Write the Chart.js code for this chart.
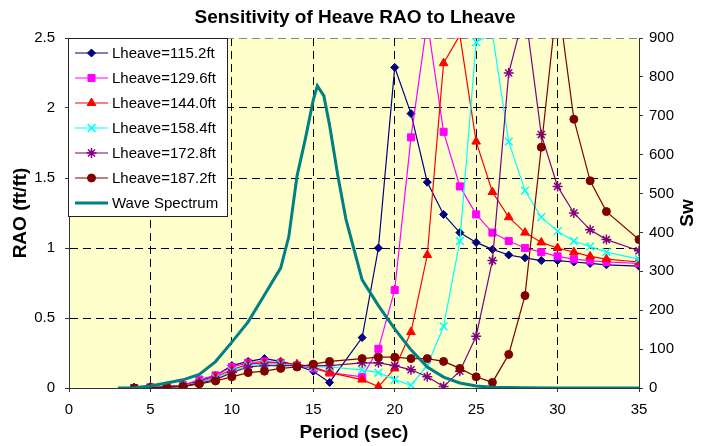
<!DOCTYPE html>
<html>
<head>
<meta charset="utf-8">
<script src="https://cdn.jsdelivr.net/npm/chart.js@4.4.1/dist/chart.umd.min.js"></script>
<style>
  html, body { margin: 0; padding: 0; background: #fff; }
</style>
</head>
<body>
<canvas id="raoChart" width="701" height="446"></canvas>
<script>
// wave periods (sec) where the RAO was computed
let periods = [4, 5, 6, 7, 8, 9, 10, 11, 12, 13, 14, 15, 16, 18, 19, 20, 21, 22, 23, 24, 25, 26, 27, 28, 29, 30, 31, 32, 33, 35];

let rao115 = [0, 0.005, 0.01, 0.02, 0.05, 0.09, 0.16, 0.19, 0.21, 0.19, 0.16, 0.12, 0.04, 0.36, 1.0, 2.29, 1.96, 1.47, 1.24, 1.11, 1.04, 0.99, 0.95, 0.93, 0.91, 0.91, 0.90, 0.89, 0.88, 0.87];
let rao130 = [0, 0.005, 0.01, 0.02, 0.06, 0.09, 0.15, 0.18, 0.19, 0.18, 0.16, 0.14, 0.11, 0.08, 0.28, 0.70, 1.79, 2.62, 1.83, 1.44, 1.24, 1.11, 1.05, 1.00, 0.97, 0.94, 0.92, 0.91, 0.90, 0.89];
let rao144 = [0, 0.004, 0.01, 0.02, 0.04, 0.08, 0.13, 0.17, 0.18, 0.18, 0.17, 0.15, 0.11, 0.06, 0.01, 0.14, 0.40, 0.95, 2.32, 2.52, 1.76, 1.40, 1.22, 1.11, 1.04, 1.00, 0.97, 0.94, 0.92, 0.90];
let rao158 = [0, 0.004, 0.008, 0.015, 0.04, 0.07, 0.12, 0.16, 0.17, 0.17, 0.16, 0.15, 0.15, 0.13, 0.11, 0.06, 0.02, 0.16, 0.44, 1.05, 2.47, 2.53, 1.76, 1.41, 1.22, 1.12, 1.05, 1.01, 0.97, 0.92];
let rao173 = [0, 0.003, 0.007, 0.013, 0.035, 0.06, 0.11, 0.15, 0.16, 0.16, 0.16, 0.16, 0.16, 0.18, 0.18, 0.16, 0.13, 0.08, 0.01, 0.12, 0.37, 0.91, 2.25, 2.70, 1.81, 1.44, 1.25, 1.13, 1.06, 0.98];
let rao187 = [0, 0.003, 0.005, 0.01, 0.03, 0.05, 0.08, 0.11, 0.12, 0.14, 0.15, 0.17, 0.19, 0.21, 0.22, 0.22, 0.21, 0.21, 0.19, 0.14, 0.08, 0.04, 0.24, 0.66, 1.72, 2.80, 1.92, 1.48, 1.26, 1.06];

// wave spectrum, plotted against the right axis
let specPeriod = [3, 4, 5, 6, 7, 8, 9, 10, 11, 12, 13, 13.5, 14, 14.5, 15, 15.25, 15.65, 16, 16.5, 17, 18, 19, 20, 21, 22, 23, 24, 25, 26, 27, 28, 30, 35];
let specSw = [0, 0.5, 5, 13, 21, 35, 68, 118, 170, 239, 309, 390, 545, 638, 741, 777, 751, 676, 548, 435, 278, 212, 152, 98, 54, 28, 13, 5, 2, 1, 0.5, 0, 0];

let seriesNames = ['Lheave=115.2ft', 'Lheave=129.6ft', 'Lheave=144.0ft', 'Lheave=158.4ft', 'Lheave=172.8ft', 'Lheave=187.2ft', 'Wave Spectrum'];

const FONT = "'Liberation Sans', Arial, sans-serif";

function pts(xs, ys) {
  return xs.map((x, i) => ({ x: x, y: ys[i] }));
}

function raoSet(i, values, color, style, radius, order) {
  return {
    label: seriesNames[i],
    data: pts(periods, values),
    yAxisID: 'y',
    borderColor: color,
    backgroundColor: color,
    borderWidth: 1.2,
    pointStyle: style,
    pointRadius: radius,
    pointBorderWidth: (style === 'crossRot' || style === 'star') ? 1.5 : 1,
    pointBorderColor: color,
    pointBackgroundColor: color,
    tension: 0,
    order: order
  };
}

let datasets = [
  raoSet(0, rao115, '#000080', 'rectRot', 4, 6),
  raoSet(1, rao130, '#FF00FF', 'rect', 5, 5),
  raoSet(2, rao144, '#FF0000', 'triangle', 5, 4),
  raoSet(3, rao158, '#00FFFF', 'crossRot', 5.5, 3),
  raoSet(4, rao173, '#800080', 'star', 5, 2),
  raoSet(5, rao187, '#800000', 'circle', 4, 1),
  {
    label: seriesNames[6],
    data: pts(specPeriod, specSw),
    yAxisID: 'y2',
    borderColor: '#008080',
    backgroundColor: '#008080',
    borderWidth: 3,
    pointRadius: 0,
    tension: 0,
    order: 0
  }
];

// light yellow plot area
const plotBackground = {
  id: 'plotBackground',
  beforeDraw(chart) {
    const a = chart.chartArea;
    const ctx = chart.ctx;
    ctx.save();
    ctx.fillStyle = '#FFFFCC';
    ctx.fillRect(a.left, a.top, a.right - a.left, a.bottom - a.top);
    ctx.restore();
  }
};

// boxed legend in the upper left corner, line sample with marker
const boxLegend = {
  id: 'boxLegend',
  afterDatasetsDraw(chart) {
    const ctx = chart.ctx;
    const bx = 68.5, by = 38.5, bw = 159, bh = 178;
    ctx.save();
    ctx.fillStyle = '#fff';
    ctx.fillRect(bx, by, bw, bh);
    ctx.strokeStyle = '#222';
    ctx.lineWidth = 1;
    ctx.strokeRect(bx, by, bw, bh);
    chart.data.datasets.forEach((ds, i) => {
      const y = 53 + i * 25;
      ctx.strokeStyle = ds.borderColor;
      ctx.lineWidth = ds.yAxisID === 'y2' ? 3 : 1.2;
      ctx.beginPath();
      ctx.moveTo(75, y);
      ctx.lineTo(108, y);
      ctx.stroke();
      if (ds.pointRadius > 0) {
        ctx.fillStyle = ds.pointBackgroundColor;
        ctx.strokeStyle = ds.pointBorderColor;
        ctx.lineWidth = ds.pointBorderWidth;
        Chart.helpers.drawPoint(ctx, {
          pointStyle: ds.pointStyle,
          radius: ds.pointRadius,
          rotation: 0,
          borderWidth: ds.pointBorderWidth
        }, 91.5, y);
      }
      ctx.fillStyle = '#000';
      ctx.font = '15px ' + FONT;
      ctx.textAlign = 'left';
      ctx.textBaseline = 'middle';
      ctx.fillText(ds.label, 112, y + 1);
    });
    ctx.restore();
  }
};

// chart title and right axis title
const titles = {
  id: 'titles',
  afterDraw(chart) {
    const ctx = chart.ctx;
    ctx.save();
    ctx.fillStyle = '#000';
    ctx.font = 'bold 19px ' + FONT;
    ctx.textAlign = 'center';
    ctx.textBaseline = 'middle';
    ctx.fillText('Sensitivity of Heave RAO to Lheave', 355, 18);
    ctx.translate(688, 213);
    ctx.rotate(-Math.PI / 2);
    ctx.fillText('Sw', 0, 0);
    ctx.restore();
  }
};

const tickFont = { family: FONT, size: 15 };
const axisTitleFont = { family: FONT, size: 19, weight: 'bold' };

let ctx1 = document.getElementById('raoChart').getContext('2d');
let raoChart = new Chart(ctx1, {
  type: 'line',
  data: { datasets: datasets },
  options: {
    responsive: false,
    animation: false,
    events: [],
    layout: { padding: { top: 38, left: 0, right: 0, bottom: 0 } },
    plugins: {
      legend: { display: false },
      title: { display: false },
      tooltip: { enabled: false }
    },
    scales: {
      x: {
        type: 'linear',
        min: 0,
        max: 35,
        ticks: { stepSize: 5, color: '#000', font: tickFont, padding: 9, maxRotation: 0 },
        grid: {
          color: (c) => (c.tick.value === 0 || c.tick.value === 35) ? 'rgba(0,0,0,0)' : '#000',
          lineWidth: 1,
          tickLength: 4,
          tickColor: '#333',
          tickBorderDash: []
        },
        border: { color: '#333', width: 1, dash: [8, 5] },
        title: { display: true, text: 'Period (sec)', color: '#000', font: axisTitleFont, padding: { top: 0, bottom: 2 } },
        afterFit: (s) => { s.height = 58; }
      },
      y: {
        type: 'linear',
        position: 'left',
        min: 0,
        max: 2.5,
        ticks: {
          stepSize: 0.5,
          color: '#000',
          font: tickFont,
          padding: 10,
          callback: (v) => String(Math.round(v * 10) / 10)
        },
        grid: {
          color: (c) => c.tick.value === 0 ? 'rgba(0,0,0,0)' : (c.tick.value === 2.5 ? '#888' : '#000'),
          lineWidth: 1,
          tickLength: 4,
          tickColor: '#333',
          tickBorderDash: []
        },
        border: { color: '#333', width: 1, dash: [8, 5] },
        title: { display: true, text: 'RAO (ft/ft)', color: '#000', font: axisTitleFont, padding: { top: 9, bottom: 0 } },
        afterFit: (s) => { s.width = 69; }
      },
      y2: {
        type: 'linear',
        position: 'right',
        min: 0,
        max: 900,
        ticks: { stepSize: 100, color: '#000', font: tickFont, padding: 6 },
        grid: {
          drawOnChartArea: false,
          tickLength: 4,
          tickColor: '#333'
        },
        border: { color: '#333', width: 1 },
        afterFit: (s) => { s.width = 62; }
      }
    }
  },
  plugins: [plotBackground, boxLegend, titles]
});
</script>
</body>
</html>
